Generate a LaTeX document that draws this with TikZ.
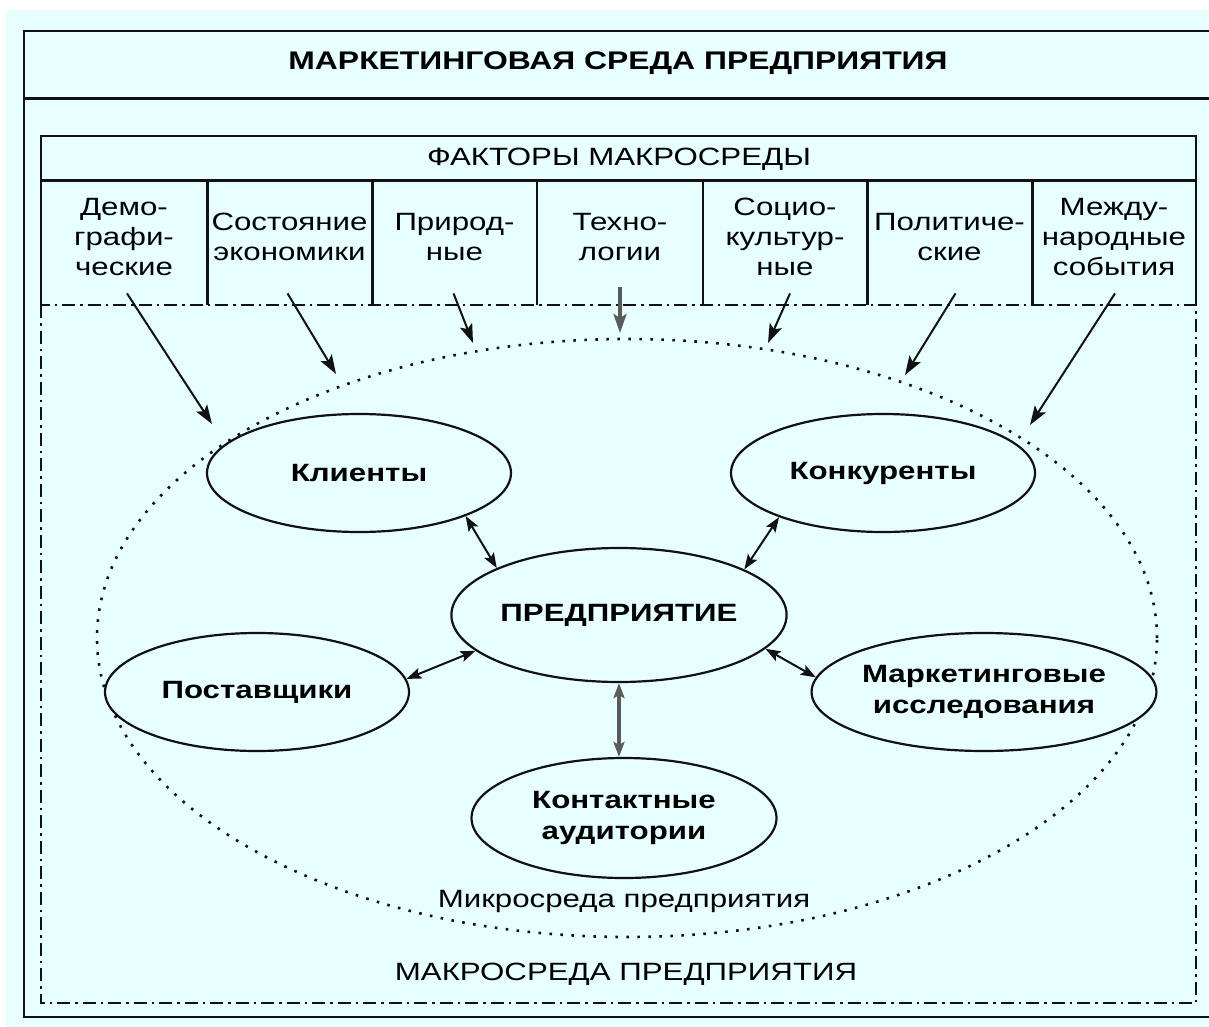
\documentclass[tikz,border=0pt]{standalone}
\usepackage{fontspec}
\setmainfont{Liberation Sans}[FakeStretch=1.25]
\usetikzlibrary{shapes.geometric, arrows.meta, positioning}
\definecolor{paperColor}{HTML}{E8FFFF}
\definecolor{lineColor}{HTML}{111111}
\definecolor{shaftColor}{HTML}{5A5A5A}

\begin{document}
\begin{tikzpicture}[
    x=1pt, y=-1pt,
    % Text Styles
    plainText/.style={
        font=\fontsize{25}{30}\selectfont,
        align=center,
        inner sep=0pt
    },
    titleText/.style={
        plainText,
        font=\fontsize{25.5}{30}\selectfont\bfseries
    },
    cell/.style={
        plainText,
        anchor=north,
        minimum width=165pt,
        minimum height=112pt
    },
    % Box Styles
    unit/.style={
        ellipse,
        draw=lineColor,
        line width=2.2pt,
        fill=paperColor,
        align=center,
        inner sep=0pt,
        minimum width=304pt,
        minimum height=118pt,
        font=\fontsize{25}{31}\selectfont\bfseries
    },
    microRing/.style={
        ellipse,
        draw=lineColor,
        line width=2.6pt,
        dash pattern=on 2.6pt off 8.4pt,
        minimum width=1060pt,
        minimum height=598pt
    },
    % Line Styles
    frameLine/.style={lineColor, line width=2.2pt},
    heavyLine/.style={lineColor, line width=3pt},
    dashDot/.style={lineColor, line width=1.9pt, dash pattern=on 13pt off 5pt on 2.5pt off 5pt},
    factorArrow/.style={
        -{Stealth[length=19pt, width=13pt, inset=4pt]},
        lineColor,
        line width=2pt
    },
    linkArrow/.style={
        {Stealth[length=15pt, width=11pt, inset=3pt]}-{Stealth[length=15pt, width=11pt, inset=3pt]},
        lineColor,
        line width=2pt
    }
]

    \useasboundingbox (0,0) rectangle (1209,1027);

    % --- PAPER & FRAMES ---
    \fill[white] (0,0) rectangle (1209,1027);
    \fill[paperColor] (6,10) rectangle (1209,1027);

    \draw[frameLine] (24,31) rectangle (1215,1017);
    \draw[heavyLine] (24,99) -- (1215,99);

    \node[titleText] (title) at (618,63) {МАРКЕТИНГОВАЯ СРЕДА ПРЕДПРИЯТИЯ};

    % --- FACTORS TABLE ---
    \draw[frameLine] (41,305) -- (41,136) -- (1196,136) -- (1196,305);
    \draw[heavyLine] (41,181) -- (1196,181);
    \foreach \x in {207,372,867,1032}
        \draw[heavyLine] (\x,181) -- (\x,305);
    \foreach \x in {537,703}
        \draw[frameLine] (\x,181) -- (\x,305);

    \node[plainText] (factors) at (619,159) {ФАКТОРЫ МАКРОСРЕДЫ};

    \foreach \i/\x/\txt in {
        1/124/{Демо-\\графи-\\ческие},
        2/289.5/{Состояние\\экономики},
        3/454.5/{Природ-\\ные},
        4/620/{Техно-\\логии},
        5/785/{Социо-\\культур-\\ные},
        6/949.5/{Политиче-\\ские},
        7/1114/{Между-\\народные\\события}}
        \node[cell] (col\i) at (\x,181) {\txt};

    % Macro environment border
    \draw[dashDot] (41,305) rectangle (1196,1003);

    % --- MICRO ENVIRONMENT ---
    \node[microRing] (micro) at (627,638) {};

    % Arrow targets just outside the ring
    \coordinate (hit1) at (212,424);
    \coordinate (hit2) at (336,374);
    \coordinate (hit3) at (473,343);
    \coordinate (hit4) at (620,333);
    \coordinate (hit5) at (768,343);
    \coordinate (hit6) at (905,375);
    \coordinate (hit7) at (1030,425);

    \foreach \i/\dx in {1/3, 2/-2, 3/-1, 5/5, 6/6, 7/1}
        \draw[factorArrow] ([xshift=\dx pt]col\i.south) -- (hit\i);
    \draw[factorArrow, shaftColor, line width=3.2pt] ([yshift=6pt]col4.south) -- (hit4);

    % --- UNITS ---
    \node[unit] (client) at (359,473) {Клиенты};
    \node[unit] (rival) at (883,473) {Конкуренты};
    \node[unit, minimum width=330pt, minimum height=134pt] (firm) at (619,615) {ПРЕДПРИЯТИЕ};
    \node[unit] (supplier) at (257,692) {Поставщики};
    \node[unit, minimum width=306pt] (research) at (984,692) {Маркетинговые\\исследования};
    \node[unit, minimum width=305pt, minimum height=120pt] (contact) at (624,818) {Контактные\\аудитории};

    % --- CONNECTIONS ---
    \draw[linkArrow] (client.-22) -- (firm.159);
    \draw[linkArrow] (supplier.5) -- (firm.194);
    \draw[linkArrow] (rival.203) -- (firm.20);
    \draw[linkArrow] (firm.-13) -- (research.175);
    \draw[linkArrow, shaftColor, line width=3.2pt] (firm.south) -- (firm.south |- contact.north);

    % --- LABELS ---
    \node[plainText, below=11pt of contact] (microLabel) {Микросреда предприятия};
    \node[plainText] (macroLabel) at (626,974) {МАКРОСРЕДА ПРЕДПРИЯТИЯ};

\end{tikzpicture}
\end{document}
